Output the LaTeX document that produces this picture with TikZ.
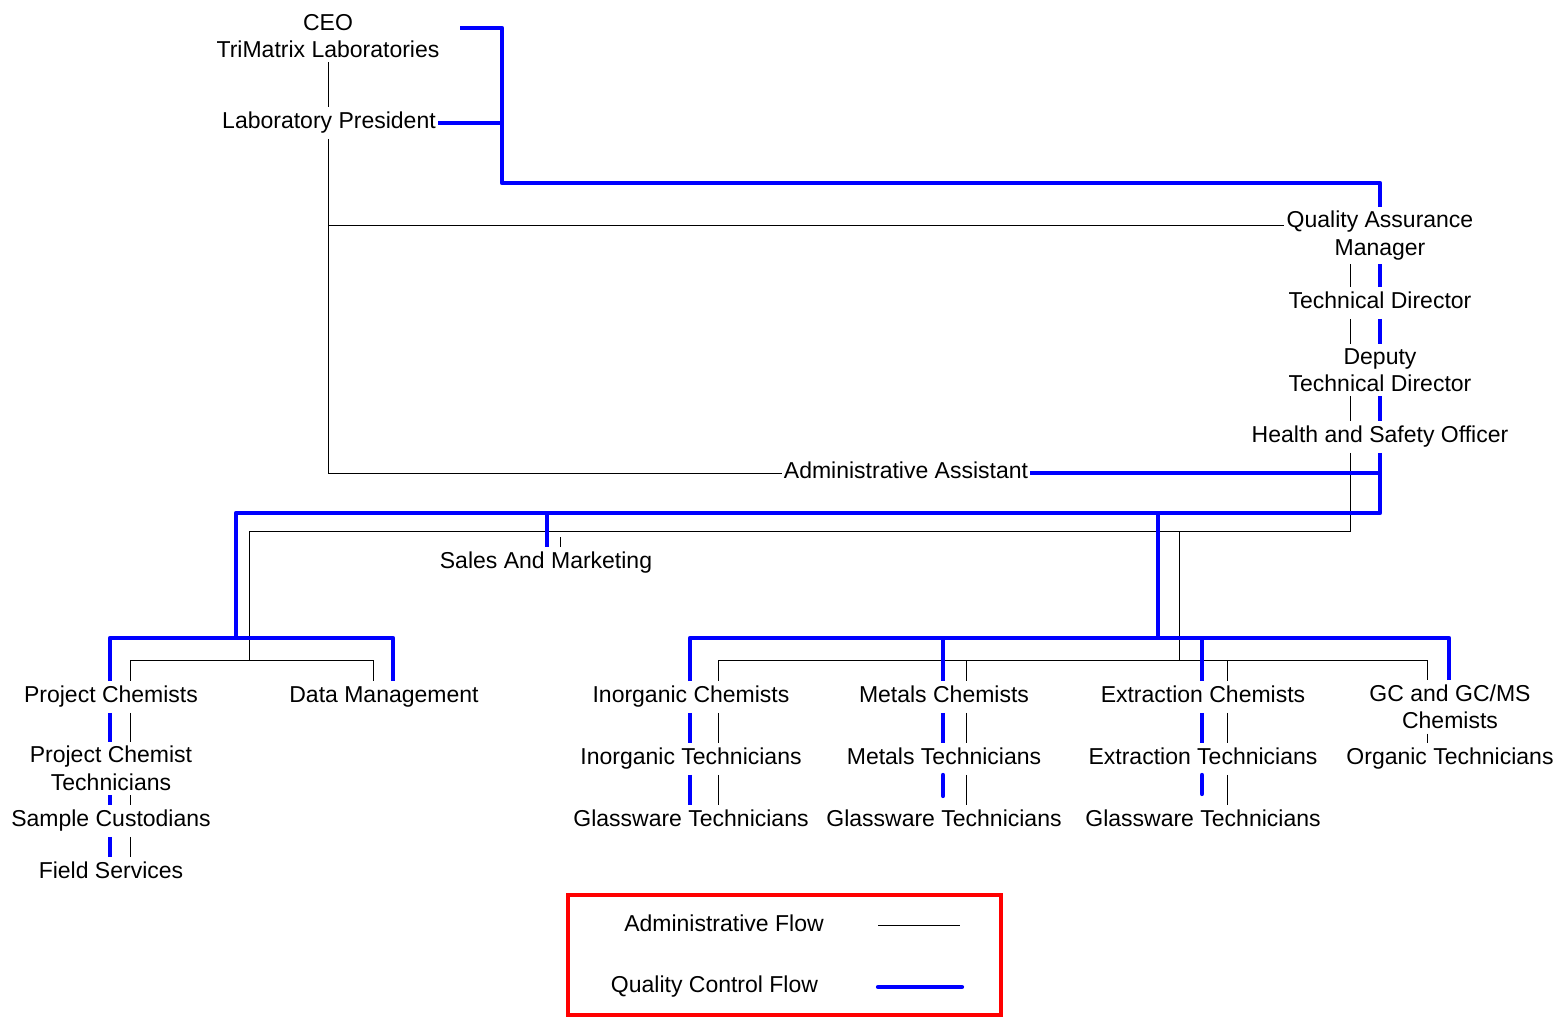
\documentclass[tikz,border=0pt]{standalone}
\usepackage{fontspec}
\setmainfont{Liberation Sans}
\begin{document}
\begin{tikzpicture}[x=0.5pt,y=-0.5pt,
  lbl/.style={font=\fontsize{11.5pt}{13.75pt}\selectfont, inner ysep=2pt, inner xsep=1pt, text height=8.6pt, text depth=2.9pt},
  lbl2/.style={font=\fontsize{11.5pt}{13.75pt}\selectfont, inner ysep=2pt, inner xsep=1pt, align=center},
  adm/.style={draw=black, line width=0.5pt},
  qc/.style={draw=blue, line width=2.1pt, line join=round},
  legbox/.style={draw=red, line width=2pt}]
\useasboundingbox (0,0) rectangle (1560,1017);
% nodes
\node[lbl2] (ceo) at (328,36) {CEO\\TriMatrix Laboratories};
\node[lbl] (lp) at (329,123) {Laboratory President};
\node[lbl2] (qa) at (1380,235.5) {Quality Assurance\\Manager};
\node[lbl] (td) at (1380,303) {Technical Director};
\node[lbl2] (dtd) at (1380,370) {Deputy\\Technical Director};
\node[lbl] (hso) at (1380,437) {Health and Safety Officer};
\node[lbl] (aa) at (906,473) {Administrative Assistant};
\node[lbl] (sm) at (546,563) {Sales And Marketing};
\node[lbl] (pc) at (111,697) {Project Chemists};
\node[lbl2] (pct) at (111,768.5) {Project Chemist\\Technicians};
\node[lbl] (sc) at (111,821) {Sample Custodians};
\node[lbl] (fs) at (111,873) {Field Services};
\node[lbl] (dm) at (384,697) {Data Management};
\node[lbl] (ic) at (691,697) {Inorganic Chemists};
\node[lbl] (it) at (691,759) {Inorganic Technicians};
\node[lbl] (igt) at (691,821) {Glassware Technicians};
\node[lbl] (mc) at (944,697) {Metals Chemists};
\node[lbl] (mt) at (944,759) {Metals Technicians};
\node[lbl] (mgt) at (944,821) {Glassware Technicians};
\node[lbl] (ec) at (1203,697) {Extraction Chemists};
\node[lbl] (et) at (1203,759) {Extraction Technicians};
\node[lbl] (egt) at (1203,821) {Glassware Technicians};
\node[lbl2] (gc) at (1450,707) {GC and GC/MS\\Chemists};
\node[lbl] (ot) at (1450,759) {Organic Technicians};
% legend
\node[lbl] (la) at (724,926) {Administrative Flow};
\node[lbl] (lq) at (714.5,987) {Quality Control Flow};
\coordinate (la1) at (878,925);
\coordinate (la2) at (960,925);
\coordinate (lq1) at (878,987);
\coordinate (lq2) at (962,987);
\draw[legbox] (568,895) rectangle (1001,1015);
\draw[adm] (la1) -- (la2);
\draw[qc, line cap=round] (lq1) -- (lq2);
% junction coordinates
\coordinate (ax) at (1350,531);
\coordinate (ax2) at (1179,531);
\coordinate (lb) at (249,531);
\coordinate (qx) at (1380,513);
\coordinate (lqj) at (236,513);
\coordinate (rq) at (1158,513);
% administrative flow
\draw[adm] (ceo.south) -- (ceo.south |- lp.north);
\draw[adm] (ceo.south |- lp.south) -- (ceo.south |- aa.west) -- (aa.west);
\draw[adm] (ceo.south |- 0,225) -- (qa.west |- 0,225);
\draw[adm] (qa.south -| ax) -- (td.north -| ax);
\draw[adm] (td.south -| ax) -- (dtd.north -| ax);
\draw[adm] (dtd.south -| ax) -- (hso.north -| ax);
\draw[adm] (hso.south -| ax) -- (ax) -- (lb) -- (249,660);
\draw[adm] (130,660) -- (373,660);
\draw[adm] (130,660) -- (pc.north -| 130,0);
\draw[adm] (373,660) -- (dm.north -| 373,0);
\draw[adm] (560,537) -- (sm.north -| 560,0);
\draw[adm] (ax2) -- (1179,660);
\draw[adm] (718,660) -- (1427,660);
\draw[adm] (718,660) -- (ic.north -| 718,0);
\draw[adm] (966,660) -- (mc.north -| 966,0);
\draw[adm] (1227,660) -- (ec.north -| 1227,0);
\draw[adm] (1427,660) -- (gc.north -| 1427,0);
\draw[adm] (pc.south -| 130,0) -- (pct.north -| 130,0);
\draw[adm] (pct.south -| 130,0) -- (sc.north -| 130,0);
\draw[adm] (sc.south -| 130,0) -- (fs.north -| 130,0);
\draw[adm] (ic.south -| 718,0) -- (it.north -| 718,0);
\draw[adm] (it.south -| 718,0) -- (igt.north -| 718,0);
\draw[adm] (mc.south -| 966,0) -- (mt.north -| 966,0);
\draw[adm] (mt.south -| 966,0) -- (mgt.north -| 966,0);
\draw[adm] (ec.south -| 1227,0) -- (et.north -| 1227,0);
\draw[adm] (et.south -| 1227,0) -- (egt.north -| 1227,0);
\draw[adm] (gc.south -| 1427,0) -- (ot.north -| 1427,0);
% quality control flow
\draw[qc] (460,28) -- (502,28) -- (502,183) -- (1380,183) -- (qa.north -| 1380,0);
\draw[qc] (lp.east) -- (lp.east -| 502,0);
\draw[qc] (qa.south -| qx) -- (td.north -| qx);
\draw[qc] (td.south -| qx) -- (dtd.north -| qx);
\draw[qc] (dtd.south -| qx) -- (hso.north -| qx);
\draw[qc] (hso.south -| qx) -- (qx) -- (lqj) -- (236,640);
\draw[qc] (aa.east) -- (aa.east -| qx);
\draw[qc] (547,513) -- (sm.north -| 547,0);
\draw[qc] (pc.north -| 110,0) -- (110,638) -- (393,638) -- (dm.north -| 393,0);
\draw[qc] (rq) -- (1158,638);
\draw[qc] (ic.north -| 690,0) -- (690,638) -- (1449,638) -- (gc.north -| 1449,0);
\draw[qc] (943,638) -- (mc.north -| 943,0);
\draw[qc] (1202,638) -- (ec.north -| 1202,0);
\draw[qc] (pc.south -| 110,0) -- (pct.north -| 110,0);
\draw[qc] (pct.south -| 110,0) -- (sc.north -| 110,0);
\draw[qc] (sc.south -| 110,0) -- (fs.north -| 110,0);
\draw[qc] (ic.south -| 690,0) -- (it.north -| 690,0);
\draw[qc] (it.south -| 690,0) -- (igt.north -| 690,0);
\draw[qc] (mc.south -| 943,0) -- (mt.north -| 943,0);
\draw[qc, line cap=round] (mt.south -| 943,0) -- (943,796);
\draw[qc] (ec.south -| 1202,0) -- (et.north -| 1202,0);
\draw[qc, line cap=round] (et.south -| 1202,0) -- (1202,794);
\end{tikzpicture}
\end{document}
